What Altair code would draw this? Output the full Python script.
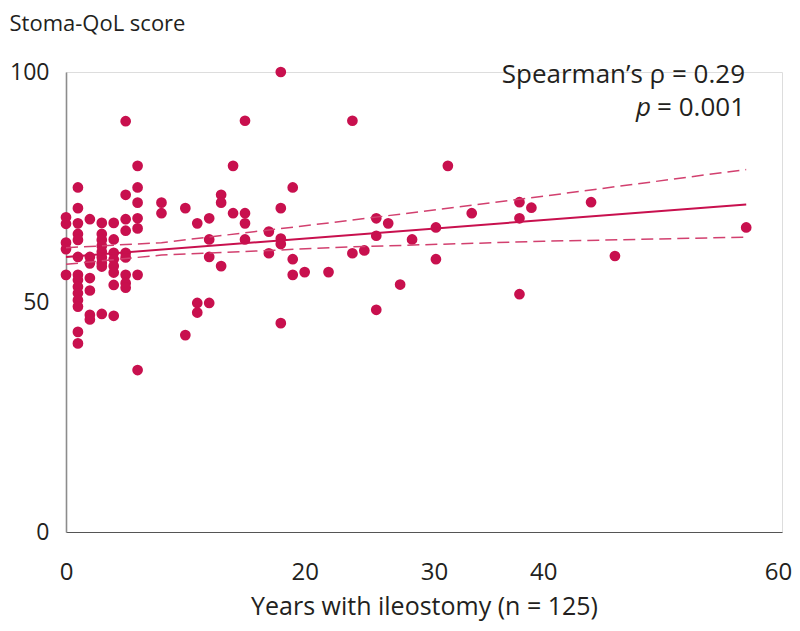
import altair as alt
import pandas as pd

# ---- data ----
years = (
    [0] * 5 + [1] * 14 + [2] * 7 + [3] * 9 + [4] * 8 + [5] * 9 + [6] * 7 + [8] * 2
    + [10] * 2 + [11] * 3 + [12] * 4 + [13] * 3 + [14] * 2 + [15] * 4 + [17] * 2
    + [18] * 5 + [19] * 3 + [20] + [22] + [24] * 2 + [25] + [26] * 3 + [27] + [28]
    + [29] + [31] * 2 + [32] + [34] + [38] * 3 + [39] + [44] + [46] + [57]
)
scores = [
    68.4, 67.0, 62.9, 61.5, 55.9,
    74.9, 70.4, 67.1, 64.8, 63.5, 59.8, 55.9, 54.8, 53.3, 51.9, 50.4, 49.0, 43.5, 41.0,
    68.0, 59.8, 58.4, 55.2, 52.5, 47.2, 46.2,
    67.2, 64.8, 63.5, 62.2, 60.9, 59.7, 58.5, 57.7, 47.4,
    67.2, 63.6, 60.7, 59.3, 57.8, 56.4, 53.7, 47.0,
    89.3, 73.3, 68.0, 65.5, 60.7, 59.7, 55.9, 54.1, 53.1,
    79.6, 74.9, 71.6, 68.2, 66.0, 55.9, 35.2,
    71.6, 69.3,
    70.4, 42.8,
    67.1, 49.8, 47.7,
    68.2, 63.6, 59.8, 49.8,
    73.3, 71.6, 57.8,
    79.6, 69.3,
    89.4, 69.3, 67.1, 63.6,
    65.3, 60.6,
    100.0, 70.4, 63.8, 62.6, 45.4,
    74.9, 59.3, 55.9,
    56.5,
    56.5,
    89.4, 60.6,
    61.2,
    68.2, 64.4, 48.3,
    67.1,
    53.8,
    63.6,
    66.2, 59.3,
    79.6,
    69.3,
    71.7, 68.2, 51.7,
    70.5,
    71.7,
    60.0,
    66.2,
]

fit_years = [0, 57]
fit_scores = [59.8, 71.2]

ci_years = [0, 8, 24, 40, 57]
ci_upper = [61.8, 62.9, 67.8, 73.0, 78.8]
ci_lower = [58.2, 60.2, 62.0, 63.2, 64.1]

x_ticks = [0, 20, 30, 40, 60]
y_ticks = [0, 50, 100]

ann_x = [56.9]
ann_y1 = [99.3]
ann_y2 = [92.2]

RED = "#C8104E"
FONT = "Open Sans"
TXT = "#231F20"
FS = 25

pts = pd.DataFrame({"years": years, "score": scores})
fit = pd.DataFrame({"years": fit_years, "score": fit_scores})
ci = pd.DataFrame({
    "years": ci_years + ci_years,
    "score": ci_upper + ci_lower,
    "bound": ["upper"] * len(ci_years) + ["lower"] * len(ci_years),
})

xs = alt.Scale(domain=[0, 60], nice=False, zero=False)
ys = alt.Scale(domain=[0, 100], nice=False)

x_axis = alt.Axis(
    values=x_ticks, grid=False, ticks=False, domainColor="#555555", domainWidth=1.2,
    labelFont=FONT, labelFontSize=24, labelColor=TXT, labelPadding=28, labelFlush=False,
    labelOffset={
        "condition": [
            {"test": "datum.value == 30", "value": 10},
            {"test": "datum.value == 60", "value": -4},
        ],
        "value": 0,
    },
    title="Years with ileostomy (n = 125)", titleFont=FONT, titleFontSize=FS,
    titleFontWeight="normal", titleColor=TXT, titlePadding=10,
)
y_axis = alt.Axis(
    values=y_ticks, grid=False, ticks=False, domainColor="#8C8C8C", domainWidth=1.6,
    labelFont=FONT, labelFontSize=23, labelColor=TXT, labelPadding=17,
    title="Stoma-QoL score", titleFont=FONT, titleFontSize=22, titleFontWeight="normal",
    titleColor=TXT, titleAngle=0, titleAlign="left", titleBaseline="middle",
    titleX=-57, titleY=-49,
)

points = alt.Chart(pts).mark_circle(size=115, opacity=1, color=RED).encode(
    x=alt.X("years:Q", scale=xs, axis=x_axis),
    y=alt.Y("score:Q", scale=ys, axis=y_axis),
)

fit_line = alt.Chart(fit).mark_line(color=RED, strokeWidth=2).encode(
    x=alt.X("years:Q", scale=xs), y=alt.Y("score:Q", scale=ys)
)

ci_lines = alt.Chart(ci).mark_line(
    color="#D2406F", strokeWidth=1.5, strokeDash=[12, 6]
).encode(
    x=alt.X("years:Q", scale=xs), y=alt.Y("score:Q", scale=ys), detail="bound:N"
)

ann1 = alt.Chart(pd.DataFrame({"years": ann_x, "score": ann_y1, "t": ["Spearman’s ρ = 0.29"]})).mark_text(
    align="right", baseline="middle", font=FONT, fontSize=26, color=TXT
).encode(x=alt.X("years:Q", scale=xs), y=alt.Y("score:Q", scale=ys), text="t:N")

ann2 = alt.Chart(pd.DataFrame({"years": ann_x, "score": ann_y2, "t": ["= 0.001"]})).mark_text(
    align="right", baseline="middle", font=FONT, fontSize=26, color=TXT
).encode(x=alt.X("years:Q", scale=xs), y=alt.Y("score:Q", scale=ys), text="t:N")

ann3 = alt.Chart(pd.DataFrame({"years": ann_x, "score": ann_y2, "t": ["p"]})).mark_text(
    align="right", baseline="middle", font=FONT, fontSize=26, fontStyle="italic",
    color=TXT, dx=-94
).encode(x=alt.X("years:Q", scale=xs), y=alt.Y("score:Q", scale=ys), text="t:N")

chart = alt.layer(points, fit_line, ci_lines, ann1, ann2, ann3).properties(
    width=716, height=460,
    autosize=alt.AutoSizeParams(type="none"),
    padding={"left": 58, "top": 64, "right": 10, "bottom": 91},
).configure_view(stroke=None).configure(background="white")

chart.save("out.html", embed_options={"renderer": "svg", "actions": False})
